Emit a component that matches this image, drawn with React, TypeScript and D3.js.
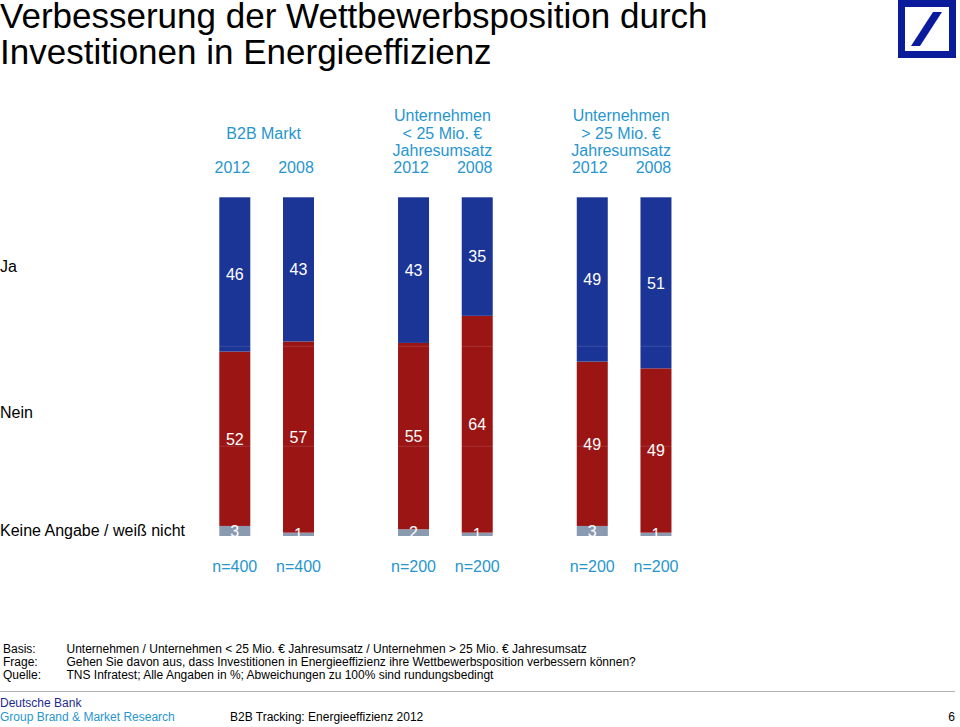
import React from "react";
import * as d3 from "d3";

const groups = ["B2B Markt", "Unternehmen <25", "Unternehmen >25"];
const groupHeaders: string[][] = [
  ["B2B Markt"],
  ["Unternehmen", "< 25 Mio. €", "Jahresumsatz"],
  ["Unternehmen", "> 25 Mio. €", "Jahresumsatz"],
];
const years = ["2012", "2008"];
const ja = [46, 43, 43, 35, 49, 51];
const nein = [52, 57, 55, 64, 49, 49];
const keine = [3, 1, 2, 1, 3, 1];
const nLabels = ["n=400", "n=400", "n=200", "n=200", "n=200", "n=200"];
const rowLabels = ["Ja", "Nein", "Keine Angabe / weiß nicht"];

const footRows = [
  ["Basis:", "Unternehmen / Unternehmen < 25 Mio. € Jahresumsatz / Unternehmen > 25 Mio. € Jahresumsatz"],
  ["Frage:", "Gehen Sie davon aus, dass Investitionen in Energieeffizienz ihre Wettbewerbsposition verbessern können?"],
  ["Quelle:", "TNS Infratest; Alle Angaben in %; Abweichungen zu 100% sind rundungsbedingt"],
];

const BLUE = "#1b3596";
const RED = "#9b1515";
const GREY = "#8a9ab0";
const CYAN = "#2796cf";
const FONT = "Liberation Sans, Arial, Helvetica, sans-serif";

type Row = { g: string; y: string; ja: number; nein: number; keine: number };

export default function App() {
  const W = 960;
  const H = 727;
  const rows: Row[] = ja.map((v, i) => ({
    g: groups[Math.floor(i / 2)],
    y: years[i % 2],
    ja: v,
    nein: nein[i],
    keine: keine[i],
  }));

  const keys = ["keine", "nein", "ja"];
  const colors: Record<string, string> = { keine: GREY, nein: RED, ja: BLUE };
  const stack = d3
    .stack<Row>()
    .keys(keys)
    .value((d, k) => (d as any)[k])
    .offset(d3.stackOffsetExpand);
  const series = stack(rows);

  const xGroup = d3.scaleBand<string>().domain(groups).range([177.3, 713.5]);
  const xInner = d3.scalePoint<string>().domain(years).range([57.5, 121.2]);
  const yScale = d3.scaleLinear().domain([0, 1]).range([536, 197.3]);
  const barW = 31;
  const cx = (r: Row) => (xGroup(r.g) as number) + (xInner(r.y) as number);

  const sepLines = [yScale(0.56), yScale(0.265)];

  return (
    <svg width={W} height={H} style={{ position: "absolute", left: 0, top: 0 }} fontFamily={FONT}>
      <rect width={W} height={H} fill="#fff" />
      {/* Title */}
      <text x={0} y={28} fontSize={35} fill="#000">
        Verbesserung der Wettbewerbsposition durch
      </text>
      <text x={0} y={64} fontSize={35} fill="#000">
        Investitionen in Energieeffizienz
      </text>
      {/* Logo */}
      <g>
        <rect x={901.5} y={3.5} width={51} height={51} fill="none" stroke="#0a1c9c" strokeWidth={7} />
        <polygon points="911,46 920,46 942,12 933,12" fill="#0a1c9c" />
      </g>

      {/* Group headers */}
      {groups.map((g, gi) => {
        const lines = groupHeaders[gi];
        const center = (xGroup(g) as number) + xGroup.bandwidth() / 2 - 3;
        return (
          <g key={g}>
            {lines.map((l, li) => (
              <text
                key={li}
                x={center}
                y={lines.length === 1 ? 138.5 : 121 + li * 17.5}
                textAnchor="middle"
                fontSize={16}
                fill={CYAN}
              >
                {l}
              </text>
            ))}
          </g>
        );
      })}
      {rows.map((r, i) => (
        <text key={"yr" + i} x={cx(r) - 2.5} y={173.3} textAnchor="middle" fontSize={16} fill={CYAN}>
          {r.y}
        </text>
      ))}

      {/* Row labels */}
      <text x={0} y={271.7} fontSize={16} fill="#000">{rowLabels[0]}</text>
      <text x={0} y={418.3} fontSize={16} fill="#000">{rowLabels[1]}</text>
      <text x={0} y={536} fontSize={16} fill="#000">{rowLabels[2]}</text>

      {/* Bars */}
      {series.map((s) => (
        <g key={s.key} fill={colors[s.key]}>
          {s.map((d, i) => (
            <rect
              key={i}
              x={cx(rows[i]) - barW / 2}
              y={yScale(d[1])}
              width={barW}
              height={yScale(d[0]) - yScale(d[1])}
            />
          ))}
        </g>
      ))}
      {/* faint row separators */}
      {rows.map((r, i) => (
        <g key={"sep" + i}>
          {sepLines.map((yy, j) => (
            <line
              key={j}
              x1={cx(r) - barW / 2}
              x2={cx(r) + barW / 2}
              y1={yy}
              y2={yy}
              stroke="#ffffff"
              strokeOpacity={0.13}
              strokeWidth={1}
            />
          ))}
        </g>
      ))}
      {/* Value labels */}
      {series.map((s) => (
        <g key={"lab" + s.key}>
          {s.map((d, i) => (
            <text
              key={i}
              x={cx(rows[i])}
              y={(yScale(d[0]) + yScale(d[1])) / 2}
              dy="0.36em"
              textAnchor="middle"
              fontSize={16}
              fill="#fff"
            >
              {(rows[i] as any)[s.key]}
            </text>
          ))}
        </g>
      ))}

      {/* n labels */}
      {rows.map((r, i) => (
        <text key={"n" + i} x={cx(r)} y={572} textAnchor="middle" fontSize={16} fill={CYAN}>
          {nLabels[i]}
        </text>
      ))}

      {/* Footnotes */}
      {footRows.map((fr, i) => (
        <g key={"f" + i}>
          <text x={3} y={652.7 + i * 13.3} fontSize={12} fill="#000">{fr[0]}</text>
          <text x={66.5} y={652.7 + i * 13.3} fontSize={12} fill="#000">{fr[1]}</text>
        </g>
      ))}
      <line x1={0} x2={955} y1={691.5} y2={691.5} stroke="#b0b0b0" strokeWidth={1} />
      <text x={0} y={707.3} fontSize={12} fill="#1c2a8c">Deutsche Bank</text>
      <text x={0} y={721} fontSize={12} fill={CYAN}>Group Brand &amp; Market Research</text>
      <text x={230} y={721} fontSize={12} fill="#000">B2B Tracking: Energieeffizienz  2012</text>
      <text x={955} y={721} fontSize={12} fill="#000" textAnchor="end">6</text>
    </svg>
  );
}
